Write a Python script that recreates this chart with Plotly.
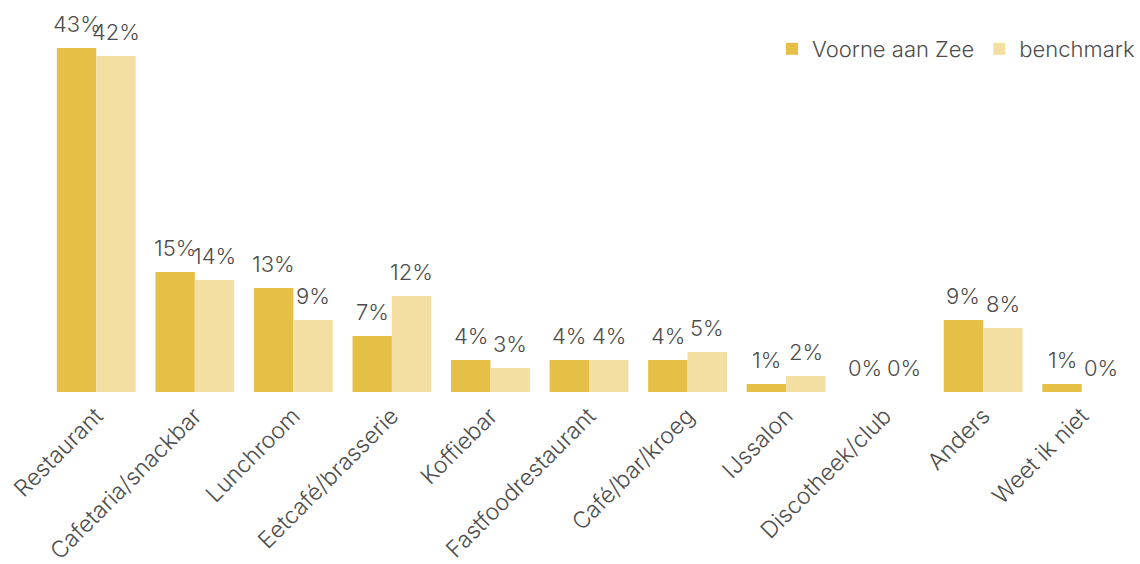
import plotly.graph_objects as go

categories = ["Restaurant", "Cafetaria/snackbar", "Lunchroom", "Eetcafé/brasserie", "Koffiebar",
              "Fastfoodrestaurant", "Café/bar/kroeg", "IJssalon", "Discotheek/club", "Anders", "Weet ik niet"]
voorne = [43, 15, 13, 7, 4, 4, 4, 1, 0, 9, 1]
benchmark = [42, 14, 9, 12, 3, 4, 5, 2, 0, 8, 0]

FONT = "Inter"
TXT = "#4d4d4d"

fig = go.Figure()
fig.add_trace(go.Bar(x=categories, y=voorne, name="Voorne aan Zee", marker_color="#E6BF47",
                     marker_line_width=0))
fig.add_trace(go.Bar(x=categories, y=benchmark, name="benchmark", marker_color="#F3DFA2",
                     marker_line_width=0))

annotations = []
for series, shift in ((voorne, -19.7), (benchmark, 19.7)):
    for c, v in zip(categories, series):
        annotations.append(dict(x=c, y=v, xref="x", yref="y", text=f"{v}%", showarrow=False,
                                xshift=shift, yanchor="bottom", yshift=9,
                                font=dict(size=22, color=TXT, family=FONT, weight=300)))

fig.update_layout(
    width=1140, height=564,
    margin=dict(l=47, r=9, t=10, b=172, autoexpand=False),
    plot_bgcolor="white", paper_bgcolor="white",
    barmode="group", bargap=0.2, bargroupgap=0,
    font=dict(family=FONT, size=22, color=TXT, weight=300),
    legend=dict(orientation="h", xref="container", yref="container", x=1.0, xanchor="right",
                y=1 - 49 / 564, yanchor="middle",
                font=dict(size=22, color=TXT, family=FONT, weight=300), bgcolor="rgba(0,0,0,0)"),
    xaxis=dict(tickangle=-45, showgrid=False, showline=False, ticks="", automargin=False,
               ticklabelstandoff=5,
               tickfont=dict(size=23, color=TXT, family=FONT, weight=300)),
    yaxis=dict(range=[0, 47.75], visible=False, showgrid=False, automargin=False),
    annotations=annotations,
)
fig.write_html("out.html")
